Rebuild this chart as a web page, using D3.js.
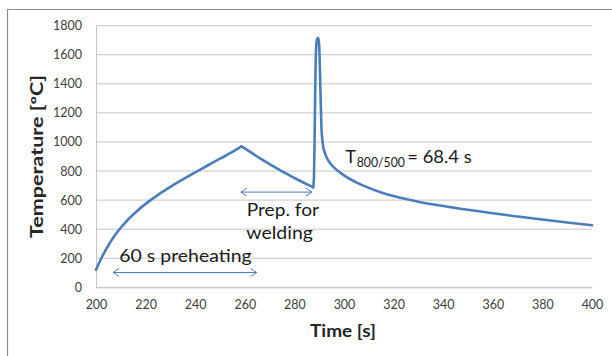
<!DOCTYPE html>
<html>
<head>
<meta charset="utf-8">
<script src="https://cdn.jsdelivr.net/npm/d3@7"></script>
<style>
  body { margin: 0; background: #fff; }
  svg { display: block; font-family: Lato, "Open Sans", sans-serif; }
</style>
</head>
<body>
<div id="chart"></div>
<script>
// Time [s] and temperature [°C]
var times = [200, 202, 204, 206, 208, 210, 213, 216, 220, 225, 230, 235, 240, 245, 250, 255, 258.7,
    262, 266, 270, 274, 278, 282, 286, 287.6,
    287.9, 288.2, 288.5, 288.8, 289.1, 289.5, 289.8, 290.1, 290.5, 290.9, 291.3, 291.6,
    292.5, 293.7, 295.7, 298, 300, 305, 310, 315, 320, 325, 330, 340, 350, 360, 370, 380, 390, 400];
var temps = [120, 195, 260, 317, 367, 410, 468, 517, 574, 636, 691, 742, 791, 838, 885, 931, 970,
    933, 889, 848, 808, 771, 735, 701, 688,
    760, 1100, 1480, 1660, 1705, 1717, 1700, 1620, 1350, 1100, 1010, 970,
    915, 872, 828, 795, 770, 722, 684, 653, 628, 607, 589, 559, 533, 509, 487, 466, 446, 427];
// the curve has corners at the end of preheating and at the start of welding
var breaks = [258.7, 287.6];

var yTicks = [0, 200, 400, 600, 800, 1000, 1200, 1400, 1600, 1800];
var xTicks = [200, 220, 240, 260, 280, 300, 320, 340, 360, 380, 400];

// double-headed arrows: [from, to, level]
var arrowPreheat = [206.9, 264.8, 102];
var arrowPrep = [258.4, 287.1, 655];

var W = 612, H = 356;
var margin = {top: 25.7, right: 20, bottom: 68.7, left: 96};
var width = W - margin.left - margin.right,
    height = H - margin.top - margin.bottom;

var svg = d3.select("#chart").append("svg")
    .attr("width", W)
    .attr("height", H);

// chart frame
svg.append("path")
    .attr("d", "M7.5," + H + " L7.5,9.5 L" + W + ",9.5")
    .attr("fill", "none")
    .attr("stroke", "#8c8c8c")
    .attr("stroke-width", 1.2);

var g = svg.append("g")
    .attr("transform", `translate(${margin.left},${margin.top})`);

var x = d3.scaleLinear().domain([200, 400]).range([0, width]);
var y = d3.scaleLinear().domain([0, 1800]).range([height, 0]);

// gridlines
g.selectAll(".grid")
    .data(yTicks)
    .join("line")
    .attr("class", "grid")
    .attr("x1", 0)
    .attr("x2", width)
    .attr("y1", d => y(d))
    .attr("y2", d => y(d))
    .attr("stroke", "#c6c6c6")
    .attr("stroke-width", 1);

// Y axis
var yAxis = g.append("g")
    .call(d3.axisLeft(y).tickValues(yTicks).tickFormat(d3.format("d")).tickSize(0).tickPadding(14));
yAxis.select(".domain").attr("stroke", "#c6c6c6");
yAxis.selectAll("text")
    .attr("font-family", "Lato, sans-serif")
    .attr("font-size", "12.5px")
    .attr("fill", "#404040");

// X axis
var xAxis = g.append("g")
    .attr("transform", `translate(0,${height})`)
    .call(d3.axisBottom(x).tickValues(xTicks).tickFormat(d3.format("d")).tickSize(0).tickPadding(13));
xAxis.select(".domain").attr("stroke", "#c6c6c6");
xAxis.selectAll("text")
    .attr("font-family", "Lato, sans-serif")
    .attr("font-size", "12.5px")
    .attr("fill", "#404040");

// axis titles
g.append("text")
    .attr("x", 214)
    .attr("y", 311)
    .attr("font-size", "16.5px")
    .attr("font-weight", "bold")
    .attr("fill", "#262626")
    .attr("textLength", 66)
    .attr("lengthAdjust", "spacingAndGlyphs")
    .text("Time [s]");

g.append("text")
    .attr("transform", `translate(-52.7,${238 - margin.top}) rotate(-90)`)
    .attr("font-size", "16.5px")
    .attr("font-weight", "bold")
    .attr("fill", "#262626")
    .attr("textLength", 163)
    .attr("lengthAdjust", "spacingAndGlyphs")
    .text("Temperature [ºC]");

// curve, drawn in pieces so the corners stay sharp
var pts = times.map((t, i) => [t, temps[i]]);
var cuts = [times[0]].concat(breaks, [times[times.length - 1]]);
var line = d3.line()
    .x(d => x(d[0]))
    .y(d => y(d[1]))
    .curve(d3.curveMonotoneX);

g.selectAll(".curve")
    .data(d3.pairs(cuts))
    .join("path")
    .attr("class", "curve")
    .attr("fill", "none")
    .attr("stroke", "#4a7ebb")
    .attr("stroke-width", 2.6)
    .attr("stroke-linejoin", "round")
    .attr("stroke-linecap", "round")
    .attr("d", c => line(pts.filter(p => p[0] >= c[0] && p[0] <= c[1])));

// arrow markers
var defs = svg.append("defs");
defs.append("marker")
    .attr("id", "head")
    .attr("viewBox", "-8 -5 10 10")
    .attr("markerWidth", 10)
    .attr("markerHeight", 10)
    .attr("markerUnits", "userSpaceOnUse")
    .attr("orient", "auto-start-reverse")
    .append("path")
    .attr("d", "M-6,-4 L0,0 L-6,4")
    .attr("fill", "none")
    .attr("stroke", "#4a7ebb")
    .attr("stroke-width", 1);

[arrowPreheat, arrowPrep].forEach(function(a) {
    g.append("line")
        .attr("x1", x(a[0]))
        .attr("x2", x(a[1]))
        .attr("y1", y(a[2]))
        .attr("y2", y(a[2]))
        .attr("stroke", "#4a7ebb")
        .attr("stroke-width", 1)
        .attr("marker-start", "url(#head)")
        .attr("marker-end", "url(#head)");
});

// annotations
var ann = g.append("g")
    .attr("font-size", "17.5px")
    .attr("fill", "#1a1a1a");

ann.append("text")
    .attr("x", 119.3 - margin.left)
    .attr("y", 261.7 - margin.top)
    .attr("textLength", 132.4)
    .attr("lengthAdjust", "spacingAndGlyphs")
    .text("60 s preheating");

ann.append("text")
    .attr("x", 246.7 - margin.left)
    .attr("y", 216.5 - margin.top)
    .attr("textLength", 72.3)
    .attr("lengthAdjust", "spacingAndGlyphs")
    .text("Prep. for");

ann.append("text")
    .attr("x", 246.3 - margin.left)
    .attr("y", 239.5 - margin.top)
    .attr("textLength", 66.7)
    .attr("lengthAdjust", "spacingAndGlyphs")
    .text("welding");

ann.append("text")
    .attr("x", 345.5 - margin.left)
    .attr("y", 162.7 - margin.top)
    .text("T");
ann.append("text")
    .attr("x", 356.7 - margin.left)
    .attr("y", 166.7 - margin.top)
    .attr("font-size", "13px")
    .attr("textLength", 48.3)
    .attr("lengthAdjust", "spacingAndGlyphs")
    .text("800/500");
ann.append("text")
    .attr("x", 407.3 - margin.left)
    .attr("y", 162.7 - margin.top)
    .attr("textLength", 64.4)
    .attr("lengthAdjust", "spacingAndGlyphs")
    .text("= 68.4 s");
</script>
</body>
</html>
